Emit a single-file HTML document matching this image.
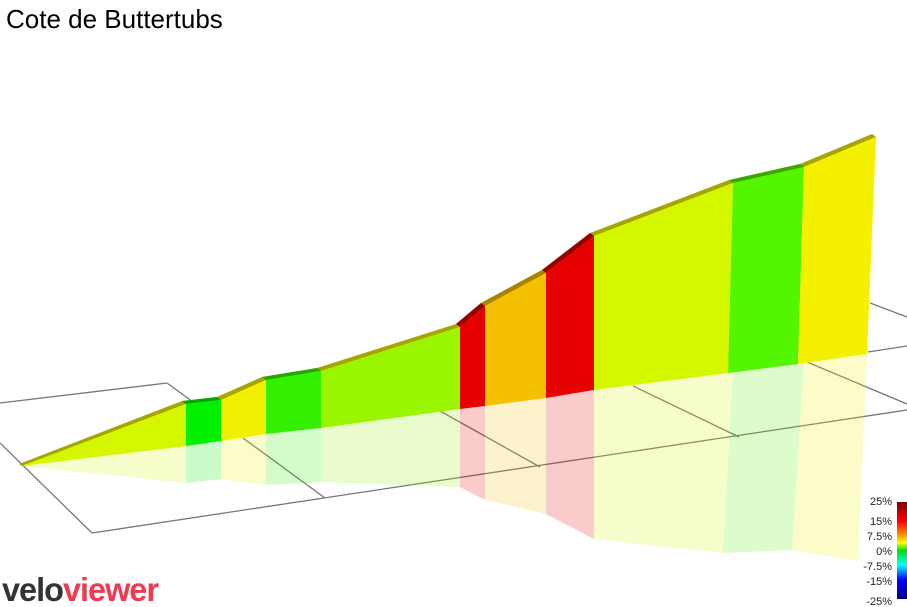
<!DOCTYPE html>
<html><head><meta charset="utf-8"><style>
html,body{margin:0;padding:0;background:#fff;width:907px;height:607px;overflow:hidden}
</style></head><body>
<svg width="907" height="607" xmlns="http://www.w3.org/2000/svg" style="position:absolute;left:0;top:0">
<text x="6" y="28" font-family="Liberation Sans, sans-serif" font-size="26" fill="#000">Cote de Buttertubs</text>
<g stroke="#777" stroke-width="1.3" fill="none">
<line x1="0" y1="403" x2="167" y2="383"/>
<line x1="167" y1="383" x2="193" y2="402"/>
<line x1="243" y1="438" x2="325" y2="498"/>
<line x1="0" y1="443" x2="92" y2="533"/>
<line x1="92" y1="533" x2="907" y2="410"/>
<line x1="633" y1="386" x2="739" y2="437"/>
<line x1="807" y1="362" x2="907" y2="404"/>
<line x1="440" y1="411" x2="540" y2="467"/>
<line x1="870" y1="303" x2="907" y2="317"/>
<line x1="868" y1="352" x2="907" y2="346"/>
</g>
<g opacity="0.2">
<polygon points="22,466 186,446 186,483" fill="#d4f700"/>
<polygon points="186,446 221,441 221,479 186,483" fill="#00f000"/>
<polygon points="221,441 266,434 266,485 221,479" fill="#f5f500"/>
<polygon points="266,434 321,428 321,482 266,485" fill="#33f000"/>
<polygon points="321,428 460,409 460,487 321,482" fill="#99f500"/>
<polygon points="460,409 485,406 485,500 460,487" fill="#e60000"/>
<polygon points="485,406 546,398 546,514 485,500" fill="#f5c000"/>
<polygon points="546,398 594,390 594,539 546,514" fill="#e60000"/>
<polygon points="594,390 733,372 723,553 594,539" fill="#d4f700"/>
<polygon points="733,372 804,363 792,550 723,553" fill="#55f500"/>
<polygon points="804,363 867,354 858,561 792,550" fill="#f5f500"/>
</g>
<polygon points="19,464 182,401 217,397 262,377 317,368 456,324 481,303 542,270 590,233 729,180 800,164 872,134 876,137 804,167 733,183 594,236 546,273 485,306 460,327 321,371 266,380 221,400 186,404 22,466" fill="#a6a600"/>
<polygon points="456,324 481,303 485,306 460,327" fill="#990000"/>
<polygon points="542,270 590,233 594,236 546,273" fill="#990000"/>
<polygon points="182,401 217,397 221,400 186,404" fill="#00a800"/>
<polygon points="262,377 317,368 321,371 266,380" fill="#22a800"/>
<polygon points="729,180 800,164 804,167 733,183" fill="#3aa800"/>
<polygon points="481,303 542,270 546,273 485,306" fill="#a88400"/>
<polygon points="22,466 186,404 186,446" fill="#d4f700"/>
<polygon points="186,404 221,400 221,441 186,446" fill="#00f000"/>
<polygon points="221,400 266,380 266,434 221,441" fill="#f0f000"/>
<polygon points="266,380 321,371 321,428 266,434" fill="#33f000"/>
<polygon points="321,371 460,327 460,409 321,428" fill="#99f500"/>
<polygon points="460,327 485,306 485,406 460,409" fill="#e60000"/>
<polygon points="485,306 546,273 546,398 485,406" fill="#f5c000"/>
<polygon points="546,273 594,236 594,390 546,398" fill="#e60000"/>
<polygon points="594,236 733,183 728,373 594,390" fill="#d4f700"/>
<polygon points="733,183 804,167 798,364 728,373" fill="#55f500"/>
<polygon points="804,167 876,137 867,354 798,364" fill="#f5f000"/>
<defs><linearGradient id="cb" x1="0" y1="0" x2="0" y2="1">
<stop offset="0" stop-color="#800000"/><stop offset="0.2" stop-color="#ff0000"/>
<stop offset="0.35" stop-color="#ffa000"/><stop offset="0.42" stop-color="#ffff00"/>
<stop offset="0.5" stop-color="#00e000"/><stop offset="0.65" stop-color="#00ffff"/>
<stop offset="0.8" stop-color="#0000ff"/><stop offset="1" stop-color="#000080"/>
</linearGradient></defs>
<rect x="897" y="502" width="10" height="97" fill="url(#cb)"/>
<g font-family="Liberation Sans, sans-serif" font-size="11" fill="#222" text-anchor="end">
<text x="892" y="505">25%</text>
<text x="892" y="525">15%</text>
<text x="892" y="540">7.5%</text>
<text x="892" y="555">0%</text>
<text x="892" y="570">-7.5%</text>
<text x="892" y="585">-15%</text>
<text x="892" y="605">-25%</text>
</g>
<text x="2" y="601" font-family="Liberation Sans, sans-serif" font-size="33" font-weight="bold" letter-spacing="-1" textLength="156" lengthAdjust="spacingAndGlyphs"><tspan fill="#333">velo</tspan><tspan fill="#f03a50">viewer</tspan></text>
</svg>
</body></html>
